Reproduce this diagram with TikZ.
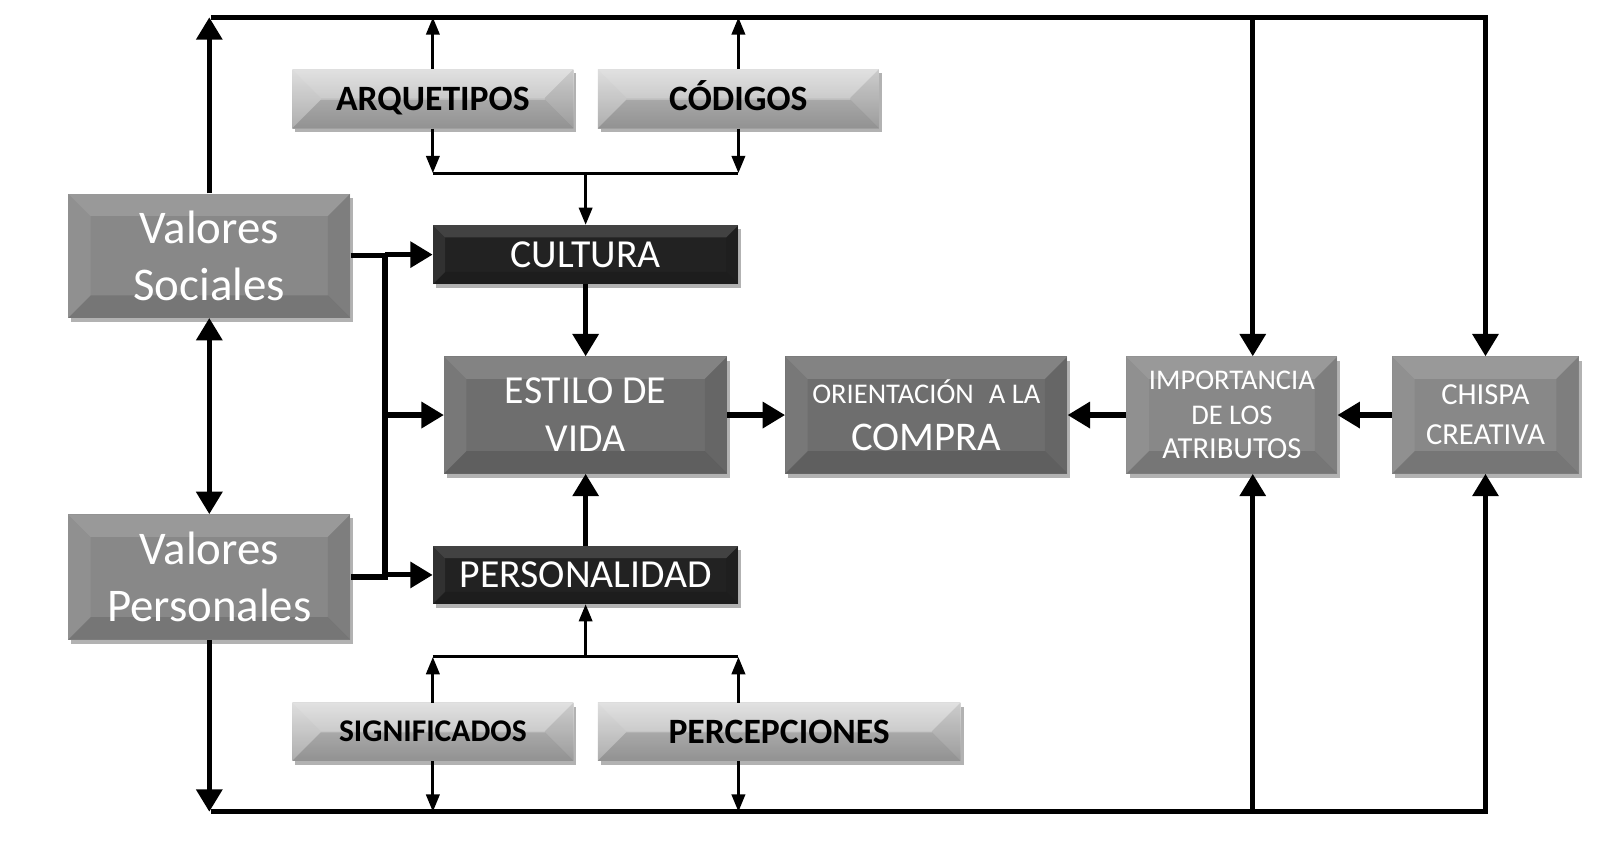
\documentclass[tikz,border=0pt]{standalone}
\usepackage{fontspec}
\setmainfont{Carlito}
\usetikzlibrary{arrows.meta,shadows}
\newdimen\bevd
\tikzset{
  bev/.code={\global\bevd=#1},
  bevfaces/.style={path picture={
    \fill[white,opacity=.15] (path picture bounding box.north west) -- (path picture bounding box.north east)
      -- ([shift={(-\bevd,-\bevd)}]path picture bounding box.north east) -- ([shift={(\bevd,-\bevd)}]path picture bounding box.north west) -- cycle;
    \fill[white,opacity=.07] (path picture bounding box.north west) -- ([shift={(\bevd,-\bevd)}]path picture bounding box.north west)
      -- ([shift={(\bevd,\bevd)}]path picture bounding box.south west) -- (path picture bounding box.south west) -- cycle;
    \fill[black,opacity=.07] (path picture bounding box.north east) -- ([shift={(-\bevd,-\bevd)}]path picture bounding box.north east)
      -- ([shift={(-\bevd,\bevd)}]path picture bounding box.south east) -- (path picture bounding box.south east) -- cycle;
    \fill[black,opacity=.13] (path picture bounding box.south west) -- (path picture bounding box.south east)
      -- ([shift={(-\bevd,\bevd)}]path picture bounding box.south east) -- ([shift={(\bevd,\bevd)}]path picture bounding box.south west) -- cycle;
  }},
  box/.style={inner sep=0pt, align=center, text=white, bevfaces,
    drop shadow={shadow xshift=3pt,shadow yshift=-4pt,opacity=.3,fill=black}},
  midbox/.style={box, fill=boxmid, bev=22pt},
  darkbox/.style={box, fill=boxdark, bev=22pt},
  blackbox/.style={box, fill=boxblack, bev=12pt, minimum width=300pt, minimum height=58pt,
    text height=25pt, text depth=0pt, font=\fontsize{39}{44}\selectfont},
  lightbox/.style={box, text=black, top color=lighttop, bottom color=lightbot, bev=28pt,
    minimum height=58pt, text height=22.5pt, text depth=0pt, font=\bfseries\fontsize{35}{40}\selectfont},
  thk/.style={line width=5pt, line join=miter},
  thkarr/.style={thk, -{Triangle[width=25pt,length=22pt]}},
  thn/.style={line width=3pt},
  thnarr/.style={thn, -{Triangle[width=13pt,length=17pt]}},
}
\definecolor{boxmid}{HTML}{888888}
\definecolor{boxdark}{HTML}{6E6E6E}
\definecolor{boxblack}{HTML}{222222}
\definecolor{lighttop}{HTML}{DCDCDC}
\definecolor{lightbot}{HTML}{A8A8A8}
\begin{document}
\begin{tikzpicture}[x=1pt,y=-1pt]
\useasboundingbox (0,0) rectangle (1568,835);
% nodes
\node[midbox, minimum width=277pt, minimum height=122pt, font=\fontsize{46}{56}\selectfont] (vs) at (205.5,251) {Valores\\Sociales};
\node[midbox, minimum width=277pt, minimum height=123pt, font=\fontsize{46}{56}\selectfont] (vp) at (205.5,566.5) {Valores\\Personales};
\node[lightbox, minimum width=276pt] (arq) at (425,97) {ARQUETIPOS};
\node[lightbox, minimum width=276pt] (cod) at (725,97) {CÓDIGOS};
\node[blackbox] (cul) at (575,250) {CULTURA};
\node[darkbox, minimum width=278pt, minimum height=115pt, font=\fontsize{39}{47}\selectfont] (est) at (575,407.5) {ESTILO DE\\VIDA};
\node[blackbox, minimum height=57pt] (per) at (575,564.5) {PERSONALIDAD};
\node[lightbox, minimum width=276pt, minimum height=57pt, text height=20pt, font=\bfseries\fontsize{31}{36}\selectfont] (sig) at (425,718.5) {SIGNIFICADOS};
\node[lightbox, minimum width=356pt, minimum height=57pt] (perc) at (765,718.5) {PERCEPCIONES};
\node[darkbox, minimum width=277pt, minimum height=115pt, font=\fontsize{40}{46}\selectfont] (ori) at (909.5,407.5) {{\fontsize{28}{32}\selectfont ORIENTACIÓN\hspace{0.3em} A LA}\\COMPRA};
\node[midbox, minimum width=207pt, minimum height=115pt, font=\fontsize{28}{34}\selectfont] (imp) at (1209.5,407.5) {IMPORTANCIA\\DE LOS\\{\fontsize{30}{34}\selectfont ATRIBUTOS}};
\node[midbox, minimum width=183pt, minimum height=115pt, font=\fontsize{30}{39}\selectfont] (chi) at (1458.5,407.5) {CHISPA\\CREATIVA};
% junction coordinates
\coordinate (TL) at (207,17);
\coordinate (BL) at (207,797);
\coordinate (TR) at (chi.north |- TL);
\coordinate (BR) at (chi.south |- BL);
\coordinate (ix) at (1230,0);
\coordinate (bus) at (378,0);
\coordinate (jt) at (575,170);
\coordinate (jb) at (575,645);
% thick connectors
\draw[thkarr] (vs.north) -- (vs.north |- TL);
\draw[thk, {Triangle[width=25pt,length=22pt]}-{Triangle[width=25pt,length=22pt]}] (vs.south) -- (vp.north);
\draw[thkarr] (vp.south) -- (vp.south |- BL);
\draw[thkarr] (TL) -- (TR) -- (chi.north);
\draw[thkarr] (BL) -- (BR) -- (chi.south);
\draw[thkarr] (ix |- TL) -- (ix |- imp.north);
\draw[thkarr] (ix |- BL) -- (ix |- imp.south);
\draw[thk] (vs.east) -- (vs.east -| bus) -- (vp.east -| bus) -- (vp.east);
\draw[thkarr] (cul.west -| bus) -- (cul.west);
\draw[thkarr] (est.west -| bus) -- (est.west);
\draw[thkarr] (per.west -| bus) -- (per.west);
\draw[thkarr] (cul.south) -- (est.north);
\draw[thkarr] (per.north) -- (est.south);
\draw[thkarr] (est.east) -- (ori.west);
\draw[thkarr] (imp.west) -- (ori.east);
\draw[thkarr] (chi.west) -- (imp.east);
% thin connectors
\draw[thnarr] (arq.north) -- (arq.north |- TL);
\draw[thnarr] (cod.north) -- (cod.north |- TL);
\draw[thnarr] (arq.south) -- (arq.south |- jt);
\draw[thnarr] (cod.south) -- (cod.south |- jt);
\draw[thn] (arq.south |- jt) -- (cod.south |- jt);
\draw[thnarr] (jt) -- (cul.north);
\draw[thnarr] (jb) -- (per.south);
\draw[thn] (sig.north |- jb) -- (cod.south |- jb);
\draw[thnarr] (sig.north) -- (sig.north |- jb);
\draw[thnarr] (cod.south |- perc.north) -- (cod.south |- jb);
\draw[thnarr] (sig.south) -- (sig.south |- BL);
\draw[thnarr] (cod.south |- perc.south) -- (cod.south |- BL);
\end{tikzpicture}
\end{document}
